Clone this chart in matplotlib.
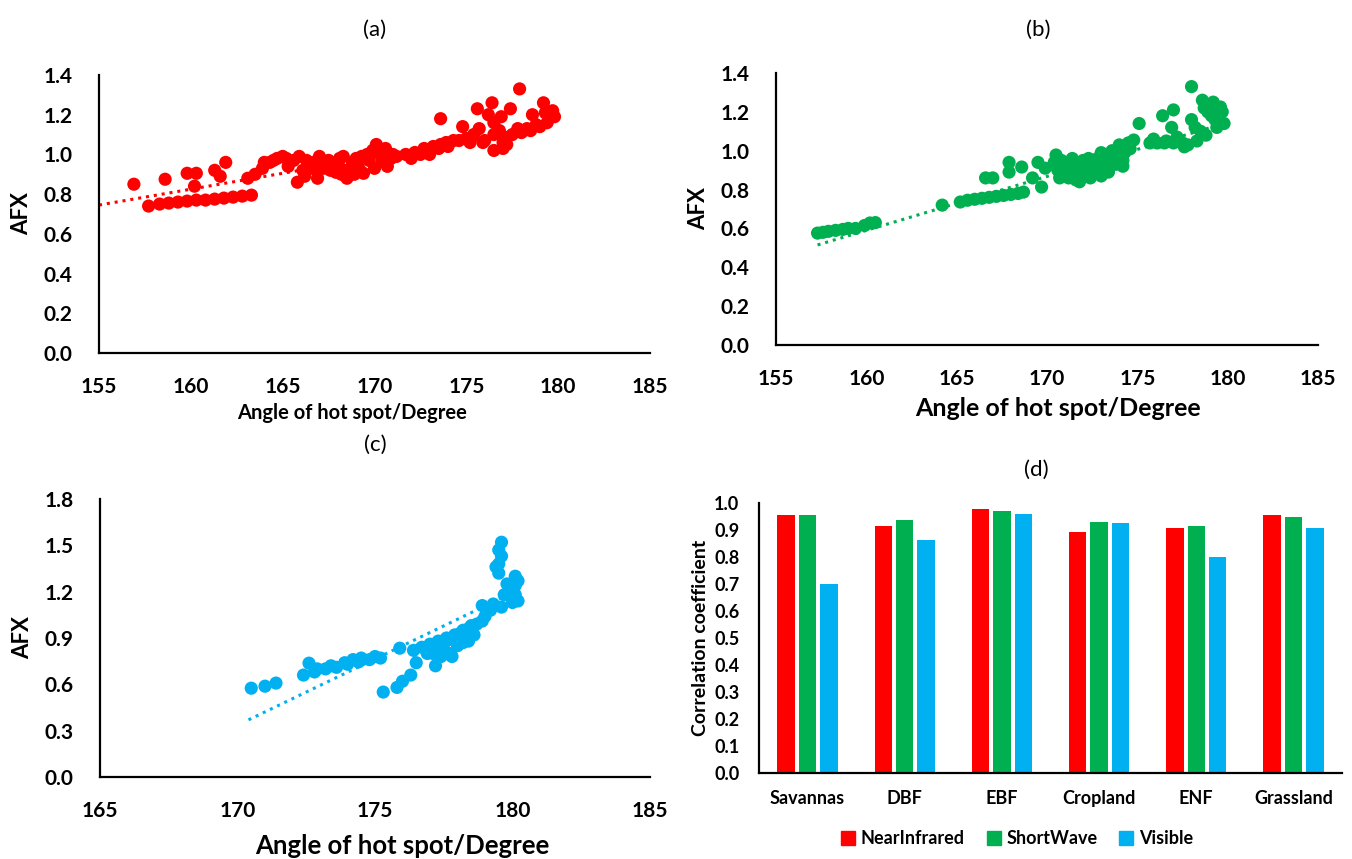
import numpy as np
import matplotlib
matplotlib.use("Agg")
from matplotlib import pyplot as plt
from matplotlib.lines import Line2D

plt.rcParams['font.family'] = ['Lato', 'DejaVu Sans']

RED = '#FF0000'
GREEN = '#00B050'
BLUE = '#00B0F0'

# panel (a): NearInfrared
a_x = [156.9, 157.7, 158.6, 158.3, 158.8, 159.3, 159.8, 160.3, 160.8, 161.3, 161.8, 162.3, 162.8, 163.3,
       159.8, 160.3, 160.2, 161.3, 161.9, 161.6,
       163.1, 163.5, 163.9, 164.3, 164.7, 165.0, 164.0, 164.5,
       165.3, 165.8, 165.6, 166.1, 166.4, 166.9, 166.7, 167.2, 167.5, 167.8, 168.1, 168.5, 168.4, 168.8,
       169.1, 169.4, 169.3, 169.7, 170.1, 170.0, 170.3, 170.7, 169.9, 168.9, 167.9,
       165.2, 165.9, 166.3, 167.0, 167.4, 168.0, 168.3, 168.7, 169.0, 169.6, 170.4, 169.2, 168.2,
       167.6, 166.6, 170.9, 171.0, 170.6, 166.2,
       171.2, 171.7, 172.2, 172.7, 173.2, 173.6, 173.9, 172.0, 173.0, 172.5, 173.5, 174.0, 174.6,
       173.6, 174.8, 174.3, 175.0, 175.9, 175.4, 177.0, 175.6, 176.4, 177.4, 177.9, 176.5, 176.5, 176.5,
       175.2, 176.0, 175.7, 176.8, 176.9, 177.2,
       177.0, 177.0, 177.5, 178.0, 178.5, 179.0, 179.4, 179.2, 179.7, 178.6, 179.5, 176.2, 177.8, 179.8,
       178.3, 178.8, 179.3]
a_y = [0.85, 0.74, 0.875, 0.75, 0.755, 0.76, 0.765, 0.77, 0.77, 0.775, 0.78, 0.785, 0.79, 0.795,
       0.905, 0.905, 0.84, 0.92, 0.96, 0.89,
       0.88, 0.90, 0.93, 0.96, 0.98, 0.99, 0.96, 0.97,
       0.94, 0.86, 0.97, 0.92, 0.95, 0.88, 0.96, 0.93, 0.97, 0.95, 0.98, 0.88, 0.92, 0.96,
       0.94, 0.905, 0.99, 0.97, 1.05, 0.93, 1.01, 0.94, 1.02, 0.90, 0.91,
       0.98, 0.99, 0.97, 0.99, 0.95, 0.94, 0.99, 0.93, 0.98, 1.00, 0.97, 0.92, 0.90,
       0.92, 0.93, 0.98, 1.00, 1.03, 0.89,
       0.99, 1.00, 1.01, 1.03, 1.04, 1.05, 1.06, 0.98, 1.00, 1.00, 1.03, 1.04, 1.07,
       1.18, 1.14, 1.07, 1.08, 1.06, 1.10, 1.03, 1.23, 1.26, 1.23, 1.33, 1.16, 1.10, 1.02,
       1.06, 1.07, 1.13, 1.12, 1.19, 1.05,
       1.06, 1.09, 1.10, 1.11, 1.12, 1.14, 1.16, 1.26, 1.22, 1.20, 1.20, 1.20, 1.13, 1.19,
       1.13, 1.15, 1.21]
a_trend_x = [155.0, 179.7]
a_trend_y = [0.745, 1.14]

# panel (b): ShortWave
b_x = [157.3, 157.6, 157.9, 158.3, 158.7, 159.0, 159.4, 159.9, 160.2, 160.5,
       164.2, 165.2, 165.6, 166.0, 166.4, 166.8, 167.2, 167.6, 168.0, 168.4, 168.7,
       166.6, 167.0, 167.9, 167.9, 168.6, 169.5, 169.2, 169.7, 170.5, 170.7,
       170.5, 170.9, 171.3, 171.6, 171.9, 172.2, 172.5, 172.8, 173.1, 173.4, 173.7, 174.0, 174.4,
       171.0, 171.5, 172.0, 172.6, 173.2, 173.8, 174.2, 171.6, 172.3, 173.0,
       170.8, 171.1, 171.4, 171.7, 172.0, 172.3, 172.6, 172.9, 173.2, 173.5, 173.8, 174.1, 174.3,
       174.6, 174.5, 174.0, 173.6, 171.2, 171.8, 172.4, 173.0, 173.4, 174.2, 170.6, 170.4, 169.9,
       174.8, 175.1, 175.7, 176.1, 176.5, 177.0, 176.4, 177.0, 176.9, 177.2, 177.6,
       176.6, 175.9, 177.3, 177.5, 177.8, 178.3, 178.8, 179.4, 179.7, 179.2, 178.7,
       178.0, 178.0, 178.6, 179.0, 179.6, 179.8, 178.5, 178.9, 179.3, 179.5, 178.2, 179.1]
b_y = [0.576, 0.58, 0.585, 0.59, 0.595, 0.60, 0.60, 0.615, 0.628, 0.63,
       0.72, 0.736, 0.745, 0.75, 0.755, 0.76, 0.765, 0.77, 0.775, 0.78, 0.787,
       0.86, 0.86, 0.94, 0.89, 0.916, 0.94, 0.86, 0.813, 0.978, 0.86,
       0.92, 0.90, 0.91, 0.92, 0.93, 0.94, 0.95, 0.96, 0.97, 0.98, 0.99, 1.00, 1.02,
       0.87, 0.88, 0.89, 0.90, 0.92, 0.93, 0.95, 0.85, 0.96, 0.99,
       0.95, 0.93, 0.96, 0.89, 0.95, 0.91, 0.93, 0.90, 0.96, 0.93, 0.97, 0.96, 0.99,
       1.01, 1.04, 1.03, 1.00, 0.86, 0.84, 0.86, 0.87, 0.89, 0.92, 0.90, 0.94, 0.91,
       1.055, 1.14, 1.04, 1.04, 1.04, 1.04, 1.18, 1.21, 1.12, 1.07, 1.02,
       1.05, 1.06, 1.05, 1.04, 1.03, 1.05, 1.08, 1.12, 1.20, 1.25, 1.22,
       1.33, 1.16, 1.26, 1.235, 1.225, 1.14, 1.10, 1.20, 1.16, 1.22, 1.12, 1.18]
b_trend_x = [157.3, 179.8]
b_trend_y = [0.515, 1.14]

# panel (c): Visible
c_x = [170.5, 171.0, 171.4, 172.6,
       172.4, 172.8, 173.2, 173.6, 174.0, 174.4, 174.8, 175.2, 172.9, 173.4, 173.9, 174.5, 175.0, 174.2,
       175.9, 176.4, 175.3, 175.8, 176.0, 176.3, 176.5, 177.2,
       176.7, 177.0, 177.3, 177.6, 177.9, 178.2, 178.5, 178.9, 177.1, 177.5, 178.0, 178.4, 177.8,
       176.9, 177.2, 177.5, 177.8, 178.1, 178.4, 178.7, 177.4, 177.7, 178.2, 178.6,
       178.9, 179.3, 179.6, 179.5, 179.5, 179.4, 180.1, 180.1, 180.1, 180.2, 179.6, 180.0, 179.8,
       179.0, 179.2, 179.7, 179.9, 180.2, 179.6, 179.5]
c_y = [0.575, 0.588, 0.608, 0.737,
       0.66, 0.68, 0.70, 0.71, 0.73, 0.745, 0.76, 0.77, 0.70, 0.72, 0.74, 0.77, 0.78, 0.76,
       0.834, 0.82, 0.55, 0.58, 0.62, 0.66, 0.74, 0.72,
       0.84, 0.86, 0.88, 0.90, 0.92, 0.95, 0.98, 1.01, 0.80, 0.82, 0.85, 0.88, 0.78,
       0.80, 0.83, 0.86, 0.89, 0.93, 0.96, 0.99, 0.78, 0.80, 0.87, 0.92,
       1.11, 1.12, 1.52, 1.47, 1.38, 1.36, 1.30, 1.24, 1.18, 1.14, 1.10, 1.13, 1.25,
       1.04, 1.08, 1.18, 1.20, 1.27, 1.43, 1.32]
c_trend_x = [170.4, 180.2]
c_trend_y = [0.37, 1.21]

# panel (d): correlation coefficients
cover_types = ['Savannas', 'DBF', 'EBF', 'Cropland', 'ENF', 'Grassland']
near_infrared = [0.957, 0.914, 0.978, 0.893, 0.909, 0.957]
short_wave = [0.957, 0.938, 0.970, 0.930, 0.914, 0.948]
visible = [0.700, 0.864, 0.961, 0.926, 0.800, 0.909]

W, H = 1352, 859
fig = plt.figure(figsize=(W / 100, H / 100), dpi=100)


def rect(left, right, top, bottom):
    return [left / W, (H - bottom) / H, (right - left) / W, (bottom - top) / H]


def style(ax, fs=15, xpad=17, ypad=19):
    for s in ['top', 'right']:
        ax.spines[s].set_visible(False)
    for s in ['left', 'bottom']:
        ax.spines[s].set_linewidth(1.6)
        ax.spines[s].set_color('black')
    ax.tick_params(length=0, labelsize=fs)
    ax.tick_params(axis='x', pad=xpad)
    ax.tick_params(axis='y', pad=ypad)
    for lab in ax.get_xticklabels() + ax.get_yticklabels():
        lab.set_fontweight('bold')


def scatter_panel(ax, x, y, tx, ty, color, xlim, ylim, yticks, xlab_size, xlab_pos):
    ax.scatter(x, y, s=90, color=color, edgecolors='none', zorder=3)
    ax.plot(tx, ty, color=color, lw=2.2, linestyle=(0, (1, 1.6)), zorder=2)
    ax.set_xlim(*xlim)
    ax.set_ylim(*ylim)
    ax.set_xticks(np.arange(xlim[0], xlim[1] + 1, 5))
    ax.set_yticks(yticks)
    ax.set_yticklabels(['%.1f' % v for v in yticks])
    style(ax)
    ax.set_ylabel('AFX', fontsize=16, fontweight='bold', labelpad=8)
    # axis title placed in figure pixels
    fig.text(xlab_pos[0] / W, 1 - xlab_pos[1] / H, 'Angle of hot spot/Degree',
             ha='center', va='center', fontsize=xlab_size, fontweight='bold')


ax_a = fig.add_axes(rect(99, 650, 75, 353))
scatter_panel(ax_a, a_x, a_y, a_trend_x, a_trend_y, RED, (155, 185), (0, 1.4),
              np.arange(0, 1.41, 0.2), 14.5, (352, 413))
fig.text(375 / W, 1 - 30 / H, '(a)', ha='center', va='center', fontsize=16)

ax_b = fig.add_axes(rect(776, 1318, 73, 345))
scatter_panel(ax_b, b_x, b_y, b_trend_x, b_trend_y, GREEN, (155, 185), (0, 1.4),
              np.arange(0, 1.41, 0.2), 18, (1058, 408))
fig.text(1038 / W, 1 - 30 / H, '(b)', ha='center', va='center', fontsize=16)

ax_c = fig.add_axes(rect(100, 650, 499, 777))
scatter_panel(ax_c, c_x, c_y, c_trend_x, c_trend_y, BLUE, (165, 185), (0, 1.8),
              np.arange(0, 1.81, 0.3), 18.5, (402, 846))
fig.text(375 / W, 1 - 445 / H, '(c)', ha='center', va='center', fontsize=16)

ax_d = fig.add_axes(rect(759, 1342, 503, 773))
pos = np.arange(len(cover_types))
bw = 0.18
step = 0.22
ax_d.bar(pos - step, near_infrared, bw, color=RED, label='NearInfrared')
ax_d.bar(pos, short_wave, bw, color=GREEN, label='ShortWave')
ax_d.bar(pos + step, visible, bw, color=BLUE, label='Visible')
ax_d.set_xlim(-0.5, len(cover_types) - 0.5)
ax_d.set_ylim(0, 1.0)
ax_d.set_yticks(np.arange(0, 1.01, 0.1))
ax_d.set_yticklabels(['%.1f' % v for v in np.arange(0, 1.01, 0.1)])
ax_d.set_xticks(pos)
ax_d.set_xticklabels(cover_types)
style(ax_d, fs=13, xpad=12, ypad=14)
ax_d.set_ylabel('Correlation coefficient', fontsize=14, fontweight='bold', labelpad=4)
handles = [Line2D([], [], marker='s', linestyle='none', markersize=10, color=c) for c in (RED, GREEN, BLUE)]
fig.legend(handles, ['NearInfrared', 'ShortWave', 'Visible'], loc='center', ncol=3,
           bbox_to_anchor=(1016 / W, 1 - 839 / H), frameon=False, handletextpad=0.2, columnspacing=1.1,
           handlelength=1.0, prop={'weight': 'bold', 'size': 13})
fig.text(1036 / W, 1 - 470 / H, '(d)', ha='center', va='center', fontsize=16)

fig.savefig('out.png', dpi=100)
